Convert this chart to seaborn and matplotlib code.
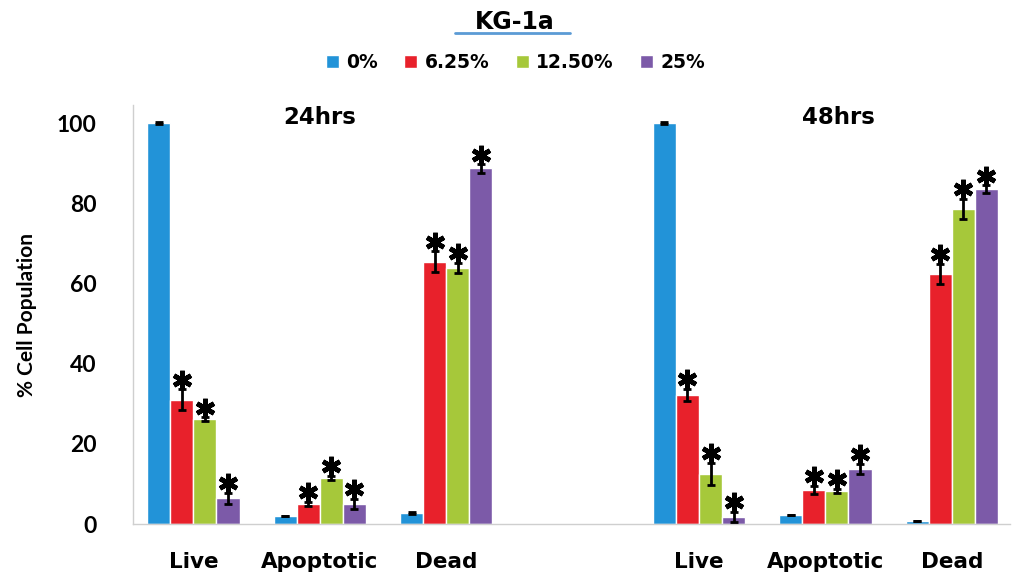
import pandas as pd
import matplotlib
matplotlib.use("Agg")
import matplotlib.pyplot as plt
import seaborn as sns
from matplotlib.lines import Line2D

# data
groups = ["Live", "Apoptotic", "Dead", "Live", "Apoptotic", "Dead"]
positions = [0, 1, 2, 4, 5, 6]
concs = ["0%", "6.25%", "12.50%", "25%"]

vals_0 = [100, 2.1, 2.7, 100, 2.2, 0.8]
vals_625 = [31.0, 5.0, 65.4, 32.2, 8.5, 62.5]
vals_125 = [26.1, 11.6, 63.9, 12.5, 8.3, 78.7]
vals_25 = [6.4, 5.0, 88.7, 1.8, 13.7, 83.5]

err_0 = [0.3, 0.0, 0.3, 0.3, 0.0, 0.0]
err_625 = [2.6, 0.6, 2.6, 1.5, 1.0, 2.5]
err_125 = [0.5, 0.5, 1.3, 2.8, 0.5, 2.5]
err_25 = [1.4, 1.3, 1.0, 1.3, 1.3, 1.0]

# asterisk shown on the treated groups
signif = [False, True, True, True]

time_labels = ["24hrs", "48hrs"]
time_x = [1.0, 5.1]

colors = ["#2293d8", "#e8212b", "#a6c83a", "#7c5aa8"]

all_vals = [vals_0, vals_625, vals_125, vals_25]
all_errs = [err_0, err_625, err_125, err_25]

rows = []
for c, vals in zip(concs, all_vals):
    for p, v in zip(positions, vals):
        rows.append({"pos": p, "value": v, "conc": c})
df = pd.DataFrame(rows)

sns.set_style("white")
plt.rcParams["font.family"] = ["DejaVu Sans"]
plt.rcParams["text.color"] = "black"
plt.rcParams["axes.labelcolor"] = "black"
plt.rcParams["xtick.color"] = "black"
plt.rcParams["ytick.color"] = "black"

fig = plt.figure(figsize=(10.13, 5.81), dpi=100)
ax = fig.add_axes([0.131, 0.098, 0.866, 0.721])

sns.barplot(data=df, x="pos", y="value", hue="conc", hue_order=concs,
            palette=colors, native_scale=True, width=0.73, errorbar=None,
            saturation=1, ax=ax)

# error bars and asterisks on top of each bar
bar_conts = list(ax.containers)
for i, cont in enumerate(bar_conts):
    xs = [b.get_x() + b.get_width() / 2 for b in cont]
    hs = [b.get_height() for b in cont]
    ax.errorbar(xs, hs, yerr=all_errs[i], fmt="none", ecolor="black",
                elinewidth=2, capsize=3, capthick=2, zorder=5)
    if signif[i]:
        tops = [h + e + 2.4 for h, e in zip(hs, all_errs[i])]
        ax.plot(xs, tops, linestyle="none", marker=(6, 2, 0), markersize=14,
                markeredgewidth=3.4, color="black", zorder=6)

for lab, x in zip(time_labels, time_x):
    ax.text(x, 101.5, lab, ha="center", va="center", fontsize=16.5,
            fontweight="bold")

ax.set_xlim(-0.48, 6.46)
ax.set_ylim(0, 104.5)
ax.set_yticks([0, 20, 40, 60, 80, 100])
ax.set_yticklabels(["0", "20", "40", "60", "80", "100"], fontsize=16.5,
                   fontweight="bold", family="Lato")
ax.set_xticks(positions)
ax.set_xticklabels(groups, fontsize=15.5, fontweight="bold")
ax.tick_params(axis="both", length=0)
ax.tick_params(axis="x", pad=20)
ax.tick_params(axis="y", pad=26)
ax.set_xlabel("")
ax.set_ylabel("% Cell Population", fontsize=15, fontweight="bold",
              family="Lato", labelpad=14)

for s in ["top", "right"]:
    ax.spines[s].set_visible(False)
for s in ["left", "bottom"]:
    ax.spines[s].set_color("#cfcfcf")
    ax.spines[s].set_linewidth(1)

handles, labels = ax.get_legend_handles_labels()
ax.get_legend().remove()
fig.legend(handles, labels, loc="center", bbox_to_anchor=(0.509, 0.892),
           ncol=4, frameon=False, handlelength=0.7, handleheight=0.7,
           handletextpad=0.4, columnspacing=1.4,
           prop={"weight": "bold", "size": 13.5})

fig.text(0.508, 0.962, "KG-1a", ha="center", va="center", fontsize=17,
         fontweight="bold")
fig.add_artist(Line2D([0.449, 0.563], [0.943, 0.943], color="#5b9bd5",
                      lw=2, transform=fig.transFigure))

fig.savefig("out.png", dpi=100)
